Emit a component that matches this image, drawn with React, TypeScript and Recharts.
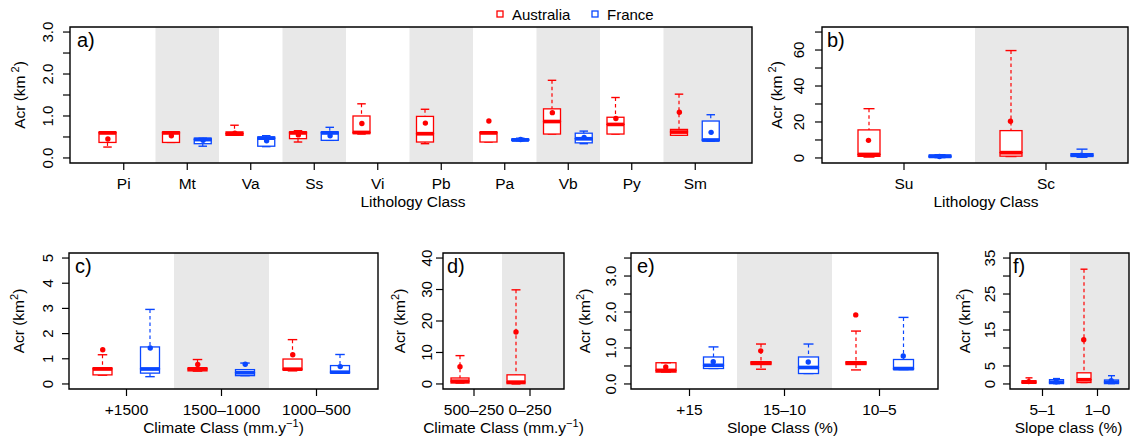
import React from 'react';
import { ComposedChart, Bar, Scatter, XAxis, YAxis, ReferenceArea } from 'recharts';

const FONT = '"Liberation Sans", Arial, Helvetica, sans-serif';
const AUS = '#ff0000';
const FRA = '#0a47ff';
const SHADE = '#e8e8e8';

// one box = [min, q1, median, q3, max, mean]
type Box = number[] | null;

const lithoClasses = ['Pi', 'Mt', 'Va', 'Ss', 'Vi', 'Pb', 'Pa', 'Vb', 'Py', 'Sm'];
const lithoAus: Box[] = [
  [0.26, 0.37, 0.6, 0.62, 0.62, 0.45],
  [0.37, 0.37, 0.6, 0.62, 0.62, 0.53],
  [0.54, 0.54, 0.58, 0.62, 0.78, 0.59],
  [0.38, 0.46, 0.6, 0.62, 0.65, 0.55],
  [0.57, 0.58, 0.61, 1.0, 1.29, 0.82],
  [0.34, 0.38, 0.58, 0.99, 1.16, 0.83],
  [0.38, 0.38, 0.6, 0.62, 0.62, 0.88],
  [0.57, 0.57, 0.87, 1.17, 1.85, 1.08],
  [0.57, 0.57, 0.8, 0.97, 1.44, 0.94],
  [0.54, 0.54, 0.62, 0.68, 1.52, 1.09],
];
const lithoFra: Box[] = [
  null,
  [0.28, 0.34, 0.44, 0.47, 0.47, 0.42],
  [0.27, 0.28, 0.47, 0.5, 0.53, 0.41],
  [0.42, 0.42, 0.6, 0.62, 0.73, 0.53],
  null,
  null,
  [0.41, 0.42, 0.43, 0.45, 0.47, 0.44],
  [0.34, 0.36, 0.46, 0.59, 0.64, 0.49],
  null,
  [0.4, 0.41, 0.43, 0.88, 1.03, 0.61],
];
const lithoTicks = [0, 0.5, 1, 1.5, 2, 2.5, 3];
const lithoTickText = [0, 1, 2, 3];

const soilClasses = ['Su', 'Sc'];
const soilAus: Box[] = [
  [0.5, 0.9, 2.0, 15.6, 27.4, 9.8],
  [0.8, 1.0, 3.0, 15.2, 59.7, 20.4],
];
const soilFra: Box[] = [
  [0.2, 0.3, 0.9, 1.6, 1.8, 0.8],
  [0.4, 0.8, 1.5, 2.4, 4.9, 1.6],
];
const soilTicks = [0, 10, 20, 30, 40, 50, 60, 70];
const soilTickText = [0, 20, 40, 60];

const wetClasses = ['+1500', '1500–1000', '1000–500'];
const wetAus: Box[] = [
  [0.35, 0.36, 0.6, 0.64, 1.16, 1.36],
  [0.51, 0.52, 0.6, 0.64, 0.97, 0.77],
  [0.52, 0.55, 0.59, 0.99, 1.76, 1.16],
];
const wetFra: Box[] = [
  [0.29, 0.43, 0.6, 1.47, 2.96, 1.43],
  [0.33, 0.33, 0.45, 0.57, 0.83, 0.78],
  [0.43, 0.43, 0.47, 0.73, 1.17, 0.69],
];
const wetTicks = [0, 1, 2, 3, 4, 5];

const dryClasses = ['500–250', '0–250'];
const dryAus: Box[] = [
  [0.3, 0.3, 0.9, 1.9, 9.0, 5.5],
  [0.0, 0.1, 0.6, 2.9, 29.9, 16.5],
];
const dryFra: Box[] = [null, null];
const dryTicks = [0, 10, 20, 30, 40];

const steepClasses = ['+15', '15–10', '10–5'];
const steepAus: Box[] = [
  [0.33, 0.33, 0.38, 0.59, 0.59, 0.47],
  [0.41, 0.54, 0.585, 0.62, 1.11, 0.92],
  [0.39, 0.54, 0.585, 0.62, 1.47, 1.92],
];
const steepFra: Box[] = [
  [0.43, 0.43, 0.52, 0.75, 1.03, 0.62],
  [0.29, 0.29, 0.46, 0.75, 1.11, 0.61],
  [0.4, 0.4, 0.43, 0.68, 1.85, 0.78],
];
const steepTicks = [0, 0.5, 1, 1.5, 2, 2.5, 3, 3.5];
const steepTickText = [0, 1, 2, 3];

const flatClasses = ['5–1', '1–0'];
const flatAus: Box[] = [
  [0.2, 0.2, 0.5, 0.9, 1.7, 0.65],
  [0.4, 0.4, 1.2, 3.1, 31.9, 12.3],
];
const flatFra: Box[] = [
  [0.1, 0.1, 0.5, 1.2, 1.5, 0.6],
  [0.1, 0.1, 0.5, 1.1, 2.3, 0.9],
];
const flatTicks = [0, 5, 10, 15, 20, 25, 30, 35];
const flatTickText = [0, 5, 15, 25, 35];

const countries = [
  { key: 'au', name: 'Australia', color: AUS },
  { key: 'fr', name: 'France', color: FRA },
];

function buildRows(cats: string[], aus: Box[], fra: Box[]) {
  return cats.map((cat, i) => {
    const row: any = { cat, au: aus[i], fr: fra[i] };
    [['au', aus[i]], ['fr', fra[i]]].forEach(([k, s]: any) => {
      row[k + '0'] = s ? s[0] : 0;
      row[k + '1'] = s ? s[1] - s[0] : 0;
      row[k + '2'] = s ? s[2] - s[1] : 0;
      row[k + '3'] = s ? s[3] - s[2] : 0;
      row[k + '4'] = s ? s[4] - s[3] : 0;
    });
    return row;
  });
}

function segShape(country: string, part: number, color: string) {
  return (p: any) => {
    const s = p.payload ? p.payload[country] : null;
    if (!s || part === 0) return <g />;
    const x = p.x, y = p.y, w = p.width, h = p.height;
    const cx = x + w / 2;
    if (part === 1 || part === 4) {
      const capY = part === 1 ? y + h : y;
      return (
        <g>
          <line x1={cx} x2={cx} y1={y} y2={y + h} stroke={color} strokeWidth={1.2} strokeDasharray="3.5 3" />
          <line x1={cx - w / 4} x2={cx + w / 4} y1={capY} y2={capY} stroke={color} strokeWidth={1.4} />
        </g>
      );
    }
    const medY = part === 2 ? y : y + h;
    return (
      <g>
        <rect x={x} y={y} width={w} height={h} fill="#fff" stroke={color} strokeWidth={1.3} />
        <line x1={x} x2={x + w} y1={medY} y2={medY} stroke={color} strokeWidth={3.5} />
      </g>
    );
  };
}

const yTick = (labelled: number[], digits: number) => (p: any) => {
  const v = p.payload.value;
  if (!labelled.some((l) => Math.abs(l - v) < 1e-9)) return <g />;
  return (
    <text x={p.x} y={p.y} transform={`rotate(-90 ${p.x} ${p.y})`} textAnchor="middle"
      fontSize={15} fontFamily={FONT} fill="#000">
      {v.toFixed(digits)}
    </text>
  );
};

const acrTitle = (bx: number, gap: number) => (p: any) => {
  const vb = p.viewBox || {};
  const x = (vb.x || 0) + bx;
  const y = (vb.y || 0) + (vb.height || 0) / 2;
  return (
    <text x={x} y={y} transform={`rotate(-90 ${x} ${y})`} textAnchor="middle"
      fontSize={15.5} fontFamily={FONT} fill="#000">
      Acr (km<tspan dx={gap} dy={-6} fontSize={11}>2</tspan><tspan dy={6}>)</tspan>
    </text>
  );
};

const xTitle = (kind: string, dx: number) => (p: any) => {
  const vb = p.viewBox || {};
  const x = (vb.x || 0) + (vb.width || 0) / 2 + dx;
  const y = (vb.y || 0) + 44;
  let body: React.ReactNode = kind;
  if (kind === 'climate') {
    body = (
      <>
        Climate Class (mm.y<tspan dy={-6} fontSize={11}>−1</tspan><tspan dy={6}>)</tspan>
      </>
    );
  }
  return (
    <text x={x} y={y} textAnchor="middle" fontSize={15.5} fontFamily={FONT} fill="#000">
      {body}
    </text>
  );
};

const letterLabel = (t: string, dx: number) => (p: any) => {
  const vb = p.viewBox || {};
  return (
    <text x={(vb.x || 0) + dx} y={(vb.y || 0) + 20} fontSize={20} fontFamily={FONT} fill="#000">
      {t}
    </text>
  );
};

type Panel = {
  letter: string; left: number; top: number; width: number; height: number;
  pl: number; pr: number; pt: number; pb: number;
  cats: string[]; aus: Box[]; fra: Box[];
  dom: number[]; ticks: number[]; tickText: number[]; digits: number;
  padL: number; padR: number; boxW: number; right: boolean;
  title: string; titleDx: number; yLabX: number; supGap: number; tickMargin: number; letterDx: number;
};

const panels: Panel[] = [
  { letter: 'a)', left: 0, top: 0, width: 800, height: 220, pl: 70, pr: 752, pt: 27, pb: 163,
    cats: lithoClasses, aus: lithoAus, fra: lithoFra, dom: [-0.12, 3.12], ticks: lithoTicks, tickText: lithoTickText, digits: 1,
    padL: 22, padR: 25, boxW: 17, right: true, title: 'Lithology Class', titleDx: 2, yLabX: 25, supGap: 3, tickMargin: 10, letterDx: 7 },
  { letter: 'b)', left: 760, top: 0, width: 370, height: 220, pl: 822, pr: 1128, pt: 27, pb: 163,
    cats: soilClasses, aus: soilAus, fra: soilFra, dom: [-2.8, 72.8], ticks: soilTicks, tickText: soilTickText, digits: 0,
    padL: 11, padR: 11, boxW: 22, right: false, title: 'Lithology Class', titleDx: 11, yLabX: 22, supGap: 3, tickMargin: 11, letterDx: 5 },
  { letter: 'c)', left: 0, top: 220, width: 400, height: 220, pl: 69, pr: 378, pt: 253, pb: 389,
    cats: wetClasses, aus: wetAus, fra: wetFra, dom: [-0.2, 5.2], ticks: wetTicks, tickText: wetTicks, digits: 0,
    padL: 10, padR: 14, boxW: 19, right: true, title: 'climate', titleDx: 0, yLabX: 24, supGap: 0, tickMargin: 9, letterDx: 6 },
  { letter: 'd)', left: 390, top: 220, width: 200, height: 220, pl: 443, pr: 564, pt: 253, pb: 389,
    cats: dryClasses, aus: dryAus, fra: dryFra, dom: [-1.6, 41.6], ticks: dryTicks, tickText: dryTicks, digits: 0,
    padL: 3, padR: 6, boxW: 18, right: true, title: 'climate', titleDx: 0, yLabX: 15, supGap: 0, tickMargin: 4, letterDx: 4 },
  { letter: 'e)', left: 575, top: 220, width: 380, height: 220, pl: 631, pr: 938, pt: 253, pb: 389,
    cats: steepClasses, aus: steepAus, fra: steepFra, dom: [-0.14, 3.64], ticks: steepTicks, tickText: steepTickText, digits: 1,
    padL: 11, padR: 11, boxW: 20, right: true, title: 'Slope Class (%)', titleDx: -2, yLabX: 15, supGap: 0, tickMargin: 8, letterDx: 6 },
  { letter: 'f)', left: 950, top: 220, width: 180, height: 220, pl: 1010, pr: 1129, pt: 253, pb: 389,
    cats: flatClasses, aus: flatAus, fra: flatFra, dom: [-1.4, 36.4], ticks: flatTicks, tickText: flatTickText, digits: 0,
    padL: 5, padR: 4, boxW: 14, right: false, title: 'Slope class (%)', titleDx: -1, yLabX: 20, supGap: 0, tickMargin: 8, letterDx: 3 },
];

function BoxPanel({ cfg }: { cfg: Panel }) {
  const n = cfg.cats.length;
  const plotW = cfg.pr - cfg.pl;
  const band = (plotW - cfg.padL - cfg.padR) / n;
  const lo = -cfg.padL / band;
  const hi = n + cfg.padR / band;
  const data = buildRows(cfg.cats, cfg.aus, cfg.fra);
  const leftW = cfg.pl - cfg.left;
  const rightW = cfg.left + cfg.width - cfg.pr;
  const xH = cfg.top + cfg.height - cfg.pb;
  const means = (boxes: Box[], off: number) =>
    boxes.map((s, i) => (s ? { x: i + off, y: s[5] } : null)).filter(Boolean) as any[];
  const shaded = cfg.cats.map((_, i) => i).filter((i) => i % 2 === 1);
  const tickLine = { stroke: '#000', strokeWidth: 1.2 };

  return (
    <div style={{ position: 'absolute', left: cfg.left, top: cfg.top, width: cfg.width, height: cfg.height }}>
      <ComposedChart
        width={cfg.width}
        height={cfg.height}
        data={data}
        margin={{ top: cfg.pt - cfg.top, right: cfg.right ? 0 : rightW, bottom: 0, left: 0 }}
        barSize={cfg.boxW}
        barGap={band / 2 - cfg.boxW}
      >
        <XAxis dataKey="cat" type="category" padding={{ left: cfg.padL, right: cfg.padR }} height={xH}
          axisLine={false} tickLine={tickLine} tickSize={7} tickMargin={8} interval={0}
          tick={{ fontSize: 15.5, fill: '#000', fontFamily: FONT }}
          label={xTitle(cfg.title, cfg.titleDx)} />
        <XAxis xAxisId="num" type="number" dataKey="x" domain={[lo, hi]} allowDataOverflow hide />
        <YAxis domain={cfg.dom} allowDataOverflow ticks={cfg.ticks} interval={0} width={leftW}
          axisLine={false} tickLine={tickLine} tickSize={7} tickMargin={cfg.tickMargin}
          tick={yTick(cfg.tickText, cfg.digits)} label={acrTitle(cfg.yLabX, cfg.supGap)} />
        {cfg.right && (
          <YAxis yAxisId="r" orientation="right" domain={cfg.dom} allowDataOverflow ticks={cfg.ticks} interval={0}
            width={rightW} axisLine={false} tickLine={tickLine} tickSize={7} tick={false} />
        )}
        {shaded.map((i) => (
          <ReferenceArea key={'s' + i} xAxisId="num" x1={i} x2={i === n - 1 ? hi : i + 1}
            y1={cfg.dom[0]} y2={cfg.dom[1]} fill={SHADE} fillOpacity={1} stroke="none" ifOverflow="visible" />
        ))}
        <ReferenceArea xAxisId="num" x1={lo} x2={hi} y1={cfg.dom[0]} y2={cfg.dom[1]}
          fill="none" fillOpacity={0} stroke="#000" strokeWidth={1.4} ifOverflow="visible"
          label={letterLabel(cfg.letter, cfg.letterDx)} />
        {countries.map((c) =>
          [0, 1, 2, 3, 4].map((j) => (
            <Bar key={c.key + j} dataKey={c.key + j} stackId={c.key} fill="none"
              shape={segShape(c.key, j, c.color)} isAnimationActive={false} />
          ))
        )}
        <Scatter xAxisId="num" data={means(cfg.aus, 0.25)} dataKey="y" isAnimationActive={false}
          shape={(p: any) => <circle cx={p.cx} cy={p.cy} r={2.7} fill={AUS} />} />
        <Scatter xAxisId="num" data={means(cfg.fra, 0.75)} dataKey="y" isAnimationActive={false}
          shape={(p: any) => <circle cx={p.cx} cy={p.cy} r={2.7} fill={FRA} />} />
      </ComposedChart>
    </div>
  );
}

export default function App() {
  return (
    <div style={{ position: 'absolute', left: 0, top: 0, width: 1130, height: 440, background: '#fff', fontFamily: FONT }}>
      <svg width={1130} height={26} style={{ position: 'absolute', left: 0, top: 0 }}>
        {countries.map((c, i) => (
          <g key={c.key}>
            <rect x={497 + i * 95} y={11} width={6} height={6} fill="#fff" stroke={c.color} strokeWidth={1.3} />
            <text x={512 + i * 95} y={20} fontSize={15} fontFamily={FONT} fill="#000">{c.name}</text>
          </g>
        ))}
      </svg>
      {panels.map((p) => (
        <BoxPanel key={p.letter} cfg={p} />
      ))}
    </div>
  );
}
